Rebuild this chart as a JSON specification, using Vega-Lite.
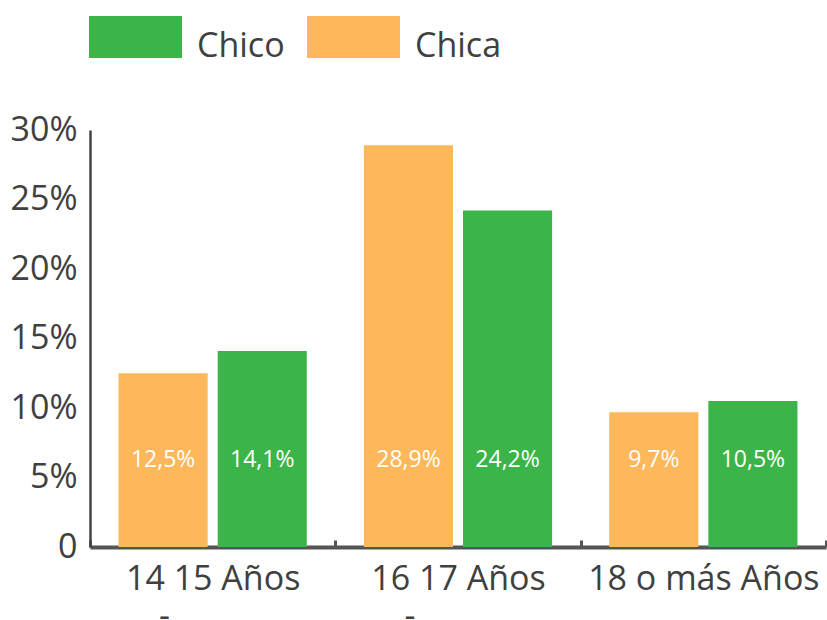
{
  "$schema": "https://vega.github.io/schema/vega-lite/v6.json",
  "width": 736,
  "height": 417,
  "autosize": {"type": "none"},
  "padding": {"left": 90, "top": 130, "right": 1, "bottom": 73},
  "config": {
    "view": {"stroke": null},
    "font": "Open Sans",
    "locale": {"number": {"decimal": ",", "thousands": ".", "grouping": [3], "currency": ["", " €"]}}
  },
  "data": {
    "values": [
      {"grupo": "14-15 Años", "sexo": "Chica", "valor": 0.125},
      {"grupo": "14-15 Años", "sexo": "Chico", "valor": 0.141},
      {"grupo": "16-17 Años", "sexo": "Chica", "valor": 0.289},
      {"grupo": "16-17 Años", "sexo": "Chico", "valor": 0.242},
      {"grupo": "18 o más Años", "sexo": "Chica", "valor": 0.097},
      {"grupo": "18 o más Años", "sexo": "Chico", "valor": 0.105}
    ]
  },
  "encoding": {
    "x": {
      "field": "grupo",
      "type": "nominal",
      "sort": ["14-15 Años", "16-17 Años", "18 o más Años"],
      "scale": {"paddingInner": 0, "paddingOuter": 0},
      "axis": {
        "title": null,
        "domainColor": "#555555",
        "domainWidth": 4,
        "tickColor": "#555555",
        "tickWidth": 3,
        "tickSize": -7,
        "tickBand": "extent",
        "labelAngle": 0,
        "labelFontSize": 34,
        "labelColor": "#404040",
        "labelPadding": 22,
        "labelLineHeight": 37,
        "labelLimit": 400,
        "labelOverlap": false,
        "labelExpr": "indexof(datum.label, '-') >= 0 ? [replace(datum.label, '-', ' '), '-\u00a0\u00a0\u00a0\u00a0\u00a0\u00a0\u00a0\u00a0\u00a0\u00a0\u00a0\u200b'] : datum.label"
      }
    },
    "xOffset": {
      "field": "sexo",
      "sort": ["Chica", "Chico"],
      "scale": {"paddingInner": 0.101, "paddingOuter": 0.288}
    }
  },
  "layer": [
    {
      "mark": {"type": "bar"},
      "encoding": {
        "y": {
          "field": "valor",
          "type": "quantitative",
          "scale": {"domain": [0, 0.3], "nice": false},
          "axis": {
            "title": null,
            "values": [0, 0.05, 0.1, 0.15, 0.2, 0.25, 0.3],
            "format": ".0%",
            "labelExpr": "datum.value == 0 ? '0' : datum.label",
            "grid": false,
            "ticks": false,
            "domainColor": "#444444",
            "domainWidth": 2.5,
            "labelFontSize": 34,
            "labelColor": "#404040",
            "labelPadding": 13
          }
        },
        "color": {
          "field": "sexo",
          "type": "nominal",
          "scale": {"domain": ["Chico", "Chica"], "range": ["#3BB54A", "#FCB85B"]},
          "legend": {
            "title": null,
            "orient": "none",
            "direction": "horizontal",
            "legendX": -1,
            "legendY": -129.5,
            "padding": 0,
            "symbolType": "M-1,-0.67H1V0.23H-1Z",
            "symbolSize": 8649,
            "symbolStrokeWidth": 0,
            "symbolOpacity": 1,
            "labelFontSize": 34,
            "labelColor": "#404040",
            "labelOffset": 15,
            "columnPadding": 22
          }
        }
      }
    },
    {
      "mark": {"type": "text", "color": "white", "fontSize": 23, "baseline": "middle"},
      "encoding": {
        "y": {"datum": 0.0625, "type": "quantitative"},
        "text": {"field": "valor", "type": "quantitative", "format": ".1%"}
      }
    }
  ]
}
